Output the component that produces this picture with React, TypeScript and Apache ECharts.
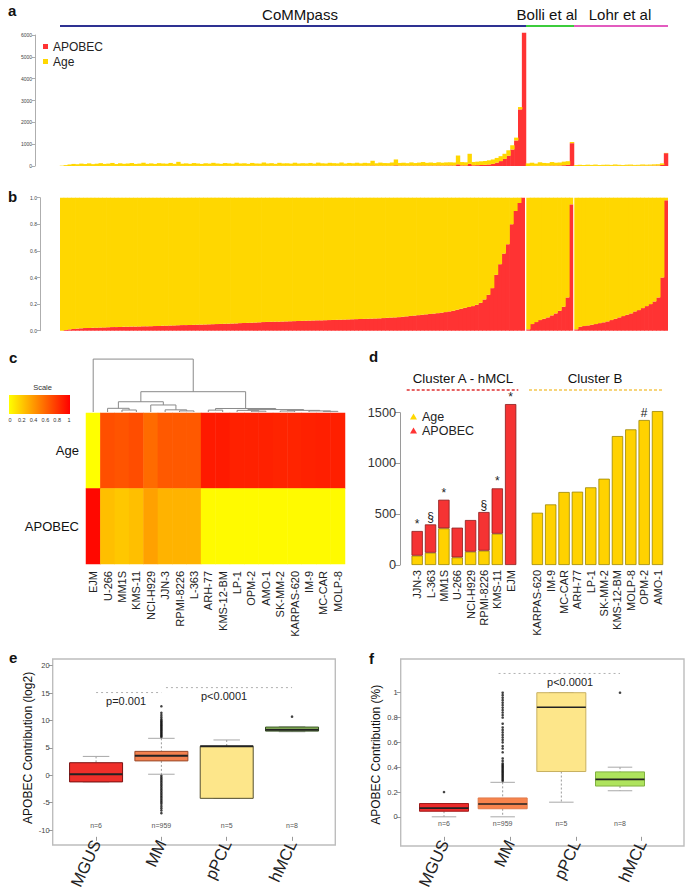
import React, { useEffect, useRef } from "react";
import * as echarts from "echarts";

const FONT = '"Liberation Sans", Arial, Helvetica, sans-serif';

// ---------------- panel a / b : binned samples sorted by APOBEC fraction ----------------
const cohorts = ["CoMMpass", "Bolli et al", "Lohr et al"];
const commTotal = [
  15, 40, 70, 95, 80, 110, 90, 120, 85, 105,
  130, 95, 110, 140, 90, 125, 100, 115, 135, 95,
  110, 150, 100, 120, 95, 130, 115, 105, 140, 100,
  190, 105, 120, 100, 135, 115, 95, 125, 110, 145,
  115, 100, 135, 120, 105, 150, 115, 125, 100, 140,
  120, 110, 160, 115, 130, 100, 145, 120, 125, 110,
  150, 115, 130, 120, 140, 110, 155, 125, 115, 145,
  130, 120, 160, 115, 140, 125, 150, 120, 145, 130,
  240, 125, 155, 135, 130, 160, 300, 140, 150, 130,
  165, 135, 155, 180, 145, 160, 140, 170, 150, 165,
  170, 160, 480, 180, 170, 560, 185, 200, 215, 230,
  260, 300, 370, 450, 560, 720, 950, 1300, 2700, 6100,
];
const commFrac = [
  0, 0.005, 0.01, 0.013, 0.016, 0.018, 0.02, 0.021, 0.022, 0.023,
  0.024, 0.025, 0.026, 0.027, 0.027, 0.028, 0.029, 0.03, 0.031, 0.031,
  0.032, 0.033, 0.033, 0.034, 0.035, 0.036, 0.037, 0.038, 0.039, 0.04,
  0.041, 0.042, 0.042, 0.043, 0.044, 0.045, 0.046, 0.047, 0.048, 0.049,
  0.05, 0.051, 0.052, 0.053, 0.054, 0.055, 0.057, 0.058, 0.059, 0.06,
  0.062, 0.063, 0.065, 0.066, 0.067, 0.068, 0.068, 0.069, 0.07, 0.071,
  0.072, 0.073, 0.074, 0.075, 0.076, 0.077, 0.078, 0.078, 0.079, 0.08,
  0.081, 0.082, 0.083, 0.084, 0.085, 0.086, 0.087, 0.088, 0.089, 0.09,
  0.091, 0.092, 0.093, 0.095, 0.097, 0.099, 0.1, 0.102, 0.105, 0.108,
  0.111, 0.114, 0.117, 0.12, 0.123, 0.126, 0.129, 0.132, 0.136, 0.14,
  0.145, 0.15, 0.158, 0.165, 0.172, 0.178, 0.185, 0.195, 0.21, 0.235,
  0.27, 0.32, 0.42, 0.5, 0.58, 0.65, 0.8, 0.9, 0.96, 1.0,
];
const bolliTotal = [120, 150, 110, 170, 140, 130, 180, 150, 160, 200, 220, 1100];
const bolliFrac = [0.01, 0.05, 0.065, 0.08, 0.09, 0.1, 0.115, 0.13, 0.15, 0.18, 0.25, 0.95];
const lohrTotal = [40, 55, 45, 60, 50, 65, 45, 55, 60, 50, 70, 55, 45, 60, 65, 50, 55, 70, 60, 65, 75, 80, 120, 600];
const lohrFrac = [
  0.01, 0.03, 0.035, 0.04, 0.045, 0.05, 0.057, 0.063, 0.07, 0.08, 0.09, 0.1,
  0.11, 0.12, 0.13, 0.145, 0.155, 0.17, 0.185, 0.2, 0.22, 0.25, 0.4, 0.98,
];

// ---------------- panel c : heatmap of signature fractions ----------------
const cellLines = [
  "EJM", "U-266", "MM1S", "KMS-11", "NCI-H929", "JJN-3", "RPMI-8226", "L-363", "ARH-77",
  "KMS-12-BM", "LP-1", "OPM-2", "AMO-1", "SK-MM-2", "KARPAS-620", "IM-9", "MC-CAR", "MOLP-8",
];
const heatRows = ["APOBEC", "Age"];
const heatAge = [0, 0.69, 0.67, 0.7, 0.58, 0.65, 0.65, 0.65, 0.9, 0.9, 0.87, 0.87, 0.87, 0.86, 0.86, 0.87, 0.88, 0.88];
const heatApobec = [0.97, 0.25, 0.22, 0.25, 0.37, 0.3, 0.3, 0.3, 0.02, 0.02, 0.02, 0.02, 0.02, 0.02, 0.02, 0.02, 0.02, 0.02];
const colorbarTicks = [0, 0.2, 0.4, 0.6, 0.8, 1];
// hierarchical merges: [left, right, height]; >=0 leaf index, <0 earlier merge -(k+1)
const dendroMerges = [
  [2, 3, 0.037], [1, -1, 0.068], [6, 7, 0.02], [5, -3, 0.04], [4, -4, 0.13], [-2, -5, 0.19],
  [16, 17, 0.012], [15, -7, 0.02], [13, 14, 0.018], [-9, -8, 0.03], [11, 12, 0.015],
  [10, -11, 0.03], [-12, -10, 0.045], [8, 9, 0.035], [-14, -13, 0.065], [-6, -15, 0.376], [0, -16, 0.98],
];

// ---------------- panel d : mutation counts per cell line ----------------
const dCats = [
  "JJN-3", "L-363", "MM1S", "U-266", "NCI-H929", "RPMI-8226", "KMS-11", "EJM", "",
  "KARPAS-620", "IM-9", "MC-CAR", "ARH-77", "LP-1", "SK-MM-2", "KMS-12-BM", "MOLP-8", "OPM-2", "AMO-1",
];
const dAge = [92, 121, 361, 75, 131, 141, 308, 0, null, 515, 597, 719, 722, 765, 850, 1270, 1336, 1428, 1516];
const dApobec = [243, 279, 282, 293, 312, 381, 447, 1585, null, 0, 0, 0, 0, 0, 0, 0, 0, 0, 0];
const dMarks = ["*", "§", "*", "", "", "§", "*", "*", "", "", "", "", "", "", "", "", "", "#", ""];
const clusterNames = ["Cluster A - hMCL", "Cluster B"];

// ---------------- panel e / f : box plots ----------------
const groups = ["MGUS", "MM", "pPCL", "hMCL"];
const groupN = ["n=6", "n=959", "n=5", "n=8"];
// [min, q1, median, q3, max]
const eBox = [
  [-1.2, -1.2, 0.2, 2.3, 3.45],
  [0.2, 2.63, 3.57, 4.37, 6.75],
  [-4.2, -4.2, 5.3, 5.3, 6.45],
  [7.95, 8.07, 8.3, 8.8, 8.85],
];
const eOutMM = [
  7.0, 7.2, 7.4, 7.6, 7.8, 8.0, 8.2, 8.4, 8.6, 8.8, 9.0, 9.2, 9.4, 9.6, 9.8, 10.0, 10.25, 10.6, 11.0, 11.4, 12.6,
  -0.1, -0.4, -0.7, -1.0, -1.3, -1.6, -1.9, -2.2, -2.5, -2.8, -3.1, -3.4, -3.7, -4.0, -4.3, -4.6, -4.9, -5.2, -5.6, -6.0, -6.4, -6.9,
];
const eOutHMCL = [10.7];
const eTests = ["p=0.001", "p<0.0001"];
const fBox = [
  [0, 0.045, 0.07, 0.107, 0.107],
  [0, 0.065, 0.103, 0.152, 0.278],
  [0.118, 0.365, 0.883, 1.0, 1.0],
  [0.21, 0.248, 0.302, 0.362, 0.4],
];
const fOutMGUS = [0.2];
const fOutMM = [
  0.29, 0.3, 0.31, 0.32, 0.33, 0.34, 0.35, 0.36, 0.37, 0.38, 0.39, 0.4, 0.41, 0.42, 0.43, 0.45, 0.47, 0.52,
  0.55, 0.57, 0.6, 0.62, 0.64, 0.66, 0.68, 0.7, 0.72, 0.75, 0.8, 0.82, 0.84, 0.86, 0.88, 0.9, 0.92, 0.94, 0.96, 0.98, 1.0,
];
const fOutHMCL = [1.0];
const fTests = ["p<0.0001"];

// ---------------- styling / layout ----------------
const RED = "#ff3333";
const YEL = "#ffd700";
const A_TOP = 35, A_H = 131;
const B_TOP = 197.7, B_H = 133;
const A_COLS = [{ l: 60, w: 466 }, { l: 526, w: 48 }, { l: 574, w: 94 }];
const B_COLS = [{ l: 60, w: 465 }, { l: 526.3, w: 46.9 }, { l: 574.3, w: 93.7 }];
const COHORT_COLORS = ["#2e3192", "#3ccc3c", "#e35bbf"];
const HM = { l: 86, t: 413, w: 259, h: 151 };
const DG = { t: 358, h: 54 };
const D = { l: 410.5, w: 253.7, base: 565, top1500: 412.7 };
const E = { l: 63.4, w: 261.3, t: 665.7, h: 172.6, frameL: 52.7, frameT: 659, frameW: 282.6, frameH: 186 };
const F = { l: 411, w: 263.6, t: 692.7, h: 133.3, frameL: 400.7, frameT: 659, frameW: 283.3, frameH: 187 };
const eFill = ["#ef2f2a", "#f3814f", "#fde68a", "#9fd268"];
const eStroke = ["#7a1212", "#9a4a2a", "#55502e", "#2f4a1c"];
const fFill = ["#ea2a2a", "#f7844d", "#fde68a", "#aee35d"];
const fStroke = ["#a01a1a", "#e07a4a", "#c8b060", "#80b040"];

function makeBoxRender(fills: string[], strokes: string[], width: number, medW: number) {
  return (params: any, api: any) => {
    const x = api.value(0);
    const pMin = api.coord([x, api.value(1)]);
    const pQ1 = api.coord([x, api.value(2)]);
    const pMed = api.coord([x, api.value(3)]);
    const pQ3 = api.coord([x, api.value(4)]);
    const pMax = api.coord([x, api.value(5)]);
    const cx = pMed[0];
    const hw = width / 2;
    const cw = width / 4;
    const i = params.dataIndex;
    const whisk = { stroke: "#9a9a9a", lineWidth: 1, lineDash: [2, 2] };
    const cap = { stroke: "#a8a8a8", lineWidth: 1 };
    return {
      type: "group",
      children: [
        { type: "line", shape: { x1: cx, y1: pMax[1], x2: cx, y2: pQ3[1] }, style: whisk },
        { type: "line", shape: { x1: cx, y1: pQ1[1], x2: cx, y2: pMin[1] }, style: whisk },
        { type: "line", shape: { x1: cx - cw, y1: pMax[1], x2: cx + cw, y2: pMax[1] }, style: cap },
        { type: "line", shape: { x1: cx - cw, y1: pMin[1], x2: cx + cw, y2: pMin[1] }, style: cap },
        {
          type: "rect",
          shape: { x: cx - hw, y: pQ3[1], width, height: Math.max(pQ1[1] - pQ3[1], 0.5) },
          style: { fill: fills[i], stroke: strokes[i], lineWidth: 1 },
        },
        { type: "line", shape: { x1: cx - hw, y1: pMed[1], x2: cx + hw, y2: pMed[1] }, style: { stroke: "#222", lineWidth: medW } },
      ],
    };
  };
}

// text annotations placed through the axes (custom series, explicit fill)
function textSeries(xi: number, yi: number, data: any[], labels: string[], font: string, color: string, dy: number, va: string) {
  return {
    type: "custom", xAxisIndex: xi, yAxisIndex: yi, silent: true, data, encode: { x: 0, y: 1 },
    renderItem: (params: any, api: any) => {
      const p = api.coord([api.value(0), api.value(1)]);
      return {
        type: "text", x: p[0], y: p[1] + dy,
        style: { text: labels[params.dataIndex], fill: color, font, textAlign: "center", textVerticalAlign: va },
      };
    },
  };
}

function buildOption() {
  const grid: any[] = [];
  const xAxis: any[] = [];
  const yAxis: any[] = [];
  const series: any[] = [];
  const graphic: any[] = [];
  const noLine = { show: false, onZero: false };

  const cohortData = [
    { total: commTotal, frac: commFrac },
    { total: bolliTotal, frac: bolliFrac },
    { total: lohrTotal, frac: lohrFrac },
  ];

  // grids 0-2 (a), 3-5 (b)
  cohortData.forEach((c, k) => {
    grid.push({ left: A_COLS[k].l, top: A_TOP, width: A_COLS[k].w, height: A_H });
  });
  cohortData.forEach((c, k) => {
    grid.push({ left: B_COLS[k].l, top: B_TOP, width: B_COLS[k].w, height: B_H });
  });
  const axisStyleSmall = {
    axisLine: { show: true, onZero: false, lineStyle: { color: "#999", width: 0.8 } },
    axisTick: { show: true, length: 3, lineStyle: { color: "#999", width: 0.8 } },
    axisLabel: { fontSize: 5, color: "#444", margin: 3, fontFamily: FONT, formatter: (v: number) => String(v) },
    splitLine: { show: false },
  };
  for (let g = 0; g < 6; g++) {
    const k = g % 3;
    xAxis.push({ type: "category", gridIndex: g, data: cohortData[k].total.map((_, i) => i), show: false, axisLine: noLine });
    if (g < 3) {
      yAxis.push(
        k === 0
          ? { type: "value", gridIndex: g, min: 0, max: 6000, interval: 1000, offset: 25, ...axisStyleSmall }
          : { type: "value", gridIndex: g, min: 0, max: 6000, show: false, axisLine: noLine, splitLine: { show: false } }
      );
    } else {
      yAxis.push(
        k === 0
          ? {
              type: "value", gridIndex: g, min: 0, max: 1, interval: 0.2, offset: 20, ...axisStyleSmall,
              axisLabel: { ...axisStyleSmall.axisLabel, formatter: (v: number) => v.toFixed(1) },
            }
          : { type: "value", gridIndex: g, min: 0, max: 1, show: false, axisLine: noLine, splitLine: { show: false } }
      );
    }
  }
  cohortData.forEach((c, k) => {
    const apobec = c.total.map((t, i) => t * c.frac[i]);
    const age = c.total.map((t, i) => t - t * c.frac[i]);
    const bw = A_COLS[k].w / c.total.length + 0.5;
    series.push({
      type: "bar", name: "APOBEC", xAxisIndex: k, yAxisIndex: k, stack: "a" + k, data: apobec,
      barWidth: bw, itemStyle: { color: RED }, clip: false, silent: true,
    });
    series.push({
      type: "bar", name: "Age", xAxisIndex: k, yAxisIndex: k, stack: "a" + k, data: age,
      barWidth: bw, itemStyle: { color: YEL }, clip: false, silent: true,
    });
  });
  cohortData.forEach((c, k) => {
    const bw = B_COLS[k].w / c.frac.length + 0.7;
    series.push({
      type: "bar", name: "APOBEC", xAxisIndex: 3 + k, yAxisIndex: 3 + k, stack: "b" + k, data: c.frac,
      barWidth: bw, itemStyle: { color: RED }, silent: true,
    });
    series.push({
      type: "bar", name: "Age", xAxisIndex: 3 + k, yAxisIndex: 3 + k, stack: "b" + k, data: c.frac.map((f) => 1 - f),
      barWidth: bw, itemStyle: { color: YEL }, silent: true,
    });
  });

  // grid 6 heatmap, grid 7 dendrogram
  grid.push({ left: HM.l, top: HM.t, width: HM.w, height: HM.h });
  grid.push({ left: HM.l, top: DG.t, width: HM.w, height: DG.h });
  xAxis.push({
    type: "category", gridIndex: 6, data: cellLines, axisLine: noLine, axisTick: { show: false },
    axisLabel: { rotate: 90, interval: 0, fontSize: 11, margin: 7, color: "#222", fontFamily: FONT },
  });
  yAxis.push({
    type: "category", gridIndex: 6, data: heatRows, axisLine: noLine, axisTick: { show: false },
    axisLabel: { fontSize: 13, margin: 7, color: "#111", fontFamily: FONT },
  });
  xAxis.push({ type: "value", gridIndex: 7, min: 0, max: cellLines.length, show: false, axisLine: noLine, splitLine: { show: false } });
  yAxis.push({ type: "value", gridIndex: 7, min: 0, max: 1, show: false, axisLine: noLine, splitLine: { show: false } });
  const heatIdx = series.length;
  series.push({
    type: "heatmap", xAxisIndex: 6, yAxisIndex: 6, silent: true,
    data: [
      ...cellLines.map((_, i) => [i, 1, heatAge[i]]),
      ...cellLines.map((_, i) => [i, 0, heatApobec[i]]),
    ],
  });
  const mX: number[] = [];
  const mH: number[] = [];
  const nx = (r: number) => (r >= 0 ? r + 0.5 : mX[-r - 1]);
  const nh = (r: number) => (r >= 0 ? 0 : mH[-r - 1]);
  const dLines: any[] = [];
  dendroMerges.forEach(([a, b, h], k) => {
    dLines.push({ coords: [[nx(a), nh(a)], [nx(a), h], [nx(b), h], [nx(b), nh(b)]] });
    mX[k] = (nx(a) + nx(b)) / 2;
    mH[k] = h;
  });
  series.push({
    type: "lines", coordinateSystem: "cartesian2d", xAxisIndex: 7, yAxisIndex: 7, polyline: true, silent: true,
    lineStyle: { color: "#8a8a8a", width: 1, opacity: 1 }, data: dLines,
  });

  // grid 8 d bars, grid 9 d axis
  const dPx = (D.base - D.top1500) / 1500;
  grid.push({ left: D.l, width: D.w, top: D.base - 1600 * dPx, height: 1600 * dPx });
  grid.push({ left: D.l, width: D.w, top: D.top1500, height: D.base - D.top1500 });
  xAxis.push({
    type: "category", gridIndex: 8, data: dCats, axisLine: noLine, axisTick: { show: false },
    axisLabel: { rotate: 90, interval: 0, fontSize: 11, margin: 5, color: "#222", fontFamily: FONT },
  });
  yAxis.push({ type: "value", gridIndex: 8, min: 0, max: 1600, show: false, axisLine: noLine, splitLine: { show: false } });
  xAxis.push({ type: "value", gridIndex: 9, min: 0, max: 1, show: false, axisLine: noLine, splitLine: { show: false } });
  yAxis.push({
    type: "value", gridIndex: 9, min: 0, max: 1500, interval: 500, offset: 10.5,
    axisLine: { show: true, onZero: false, lineStyle: { color: "#9a9a9a", width: 1 } },
    axisTick: { show: true, length: 5, lineStyle: { color: "#9a9a9a" } },
    axisLabel: { fontSize: 12.7, color: "#333", margin: 4, fontFamily: FONT, formatter: (v: number) => String(v) },
    splitLine: { show: false },
  });
  series.push({
    type: "bar", name: "Age", xAxisIndex: 8, yAxisIndex: 8, stack: "d", silent: true,
    data: dAge.map((v) => (v ? v : null)), barCategoryGap: "15%",
    itemStyle: { color: "#ffd200", borderColor: "#9c8500", borderWidth: 0.8 },
  });
  series.push({
    type: "bar", name: "APOBEC", xAxisIndex: 8, yAxisIndex: 8, stack: "d", silent: true,
    data: dApobec.map((v) => (v ? v : null)),
    itemStyle: { color: "#f53333", borderColor: "#8a1c1c", borderWidth: 0.8 },
  });
  series.push(
    textSeries(8, 8, dCats.map((_, i) => [i, (dAge[i] || 0) + (dApobec[i] || 0)]), dMarks, `12px ${FONT}`, "#222", -1, "bottom")
  );
  series.push({ type: "scatter", xAxisIndex: 9, yAxisIndex: 9, data: [], silent: true });

  // grid 10 e, grid 11 f
  grid.push({ left: E.l, top: E.t, width: E.w, height: E.h });
  grid.push({ left: F.l, top: F.t, width: F.w, height: F.h });
  const catAxis = (g: number, offset: number) => ({
    type: "category", gridIndex: g, data: groups, position: "bottom", offset,
    axisLine: noLine,
    axisTick: { show: true, alignWithLabel: true, length: 4, lineStyle: { color: "#999" } },
    axisLabel: { rotate: 65, fontSize: 16.5, margin: 4, color: "#222", fontFamily: FONT, interval: 0 },
  });
  xAxis.push(catAxis(10, E.frameT + E.frameH - (E.t + E.h)));
  const eX = xAxis.length;
  xAxis.push({ type: "value", gridIndex: 10, min: 0.5, max: 4.5, show: false, position: "top", axisLine: noLine, splitLine: { show: false } });
  xAxis.push(catAxis(11, F.frameT + F.frameH - (F.t + F.h)));
  const fX = xAxis.length;
  const fStep = (620 - 444) / 3;
  xAxis.push({
    type: "value", gridIndex: 11, min: 1 - (444 - F.l) / fStep, max: 4 + (F.l + F.w - 620) / fStep,
    show: false, position: "top", axisLine: noLine, splitLine: { show: false },
  });
  const boxY = (g: number, min: number, max: number, interval: number, offset: number, name: string) => ({
    type: "value", gridIndex: g, min, max, interval, offset, name, nameLocation: "middle", nameGap: 19,
    nameTextStyle: { fontSize: 12, color: "#111", fontFamily: FONT },
    axisLine: noLine,
    axisTick: { show: true, length: 4, lineStyle: { color: "#999" } },
    axisLabel: { fontSize: 7.5, color: "#444", margin: 3, fontFamily: FONT },
    splitLine: { show: false },
  });
  const eY = yAxis.length;
  yAxis.push(boxY(10, -10, 20, 5, E.l - E.frameL, "APOBEC Contribution (log2)"));
  const fY = yAxis.length;
  yAxis.push(boxY(11, 0, 1, 0.2, F.l - F.frameL, "APOBEC Contribution (%)"));

  const dotted = { color: "#b0b0b0", width: 1, type: [2, 3] };

  // e
  series.push({
    type: "custom", xAxisIndex: eX, yAxisIndex: eY, silent: true,
    data: eBox.map((b, i) => [i + 1, ...b]), encode: { x: 0, y: [1, 2, 3, 4, 5] },
    renderItem: makeBoxRender(eFill, eStroke, 53, 2),
  });
  series.push({
    type: "scatter", xAxisIndex: eX, yAxisIndex: eY, symbolSize: 2.6, silent: true,
    itemStyle: { color: "#111" },
    data: [...eOutMM.map((v) => [2, v]), ...eOutHMCL.map((v) => [4, v])],
  });
  series.push({ type: "line", xAxisIndex: eX, yAxisIndex: eY, symbol: "none", silent: true, clip: false, lineStyle: dotted, data: [[1, 15.1], [2, 15.1]] });
  series.push({ type: "line", xAxisIndex: eX, yAxisIndex: eY, symbol: "none", silent: true, clip: false, lineStyle: dotted, data: [[2.07, 16], [4, 16]] });
  series.push(textSeries(eX, eY, [[1.46, 13.5], [2.96, 14.4]], eTests, `11px ${FONT}`, "#222", 0, "middle"));
  series.push(textSeries(eX, eY, groups.map((_, i) => [i + 1, -9.1]), groupN, `7px ${FONT}`, "#555", 0, "middle"));

  // f
  series.push({
    type: "custom", xAxisIndex: fX, yAxisIndex: fY, silent: true,
    data: fBox.map((b, i) => [i + 1, ...b]), encode: { x: 0, y: [1, 2, 3, 4, 5] },
    renderItem: makeBoxRender(fFill, fStroke, 49, 1.6),
  });
  series.push({
    type: "scatter", xAxisIndex: fX, yAxisIndex: fY, symbolSize: 2.6, silent: true, clip: false,
    itemStyle: { color: "#111" },
    data: [...fOutMGUS.map((v) => [1, v]), ...fOutMM.map((v) => [2, v]), ...fOutHMCL.map((v) => [4, v])],
  });
  series.push({ type: "line", xAxisIndex: fX, yAxisIndex: fY, symbol: "none", silent: true, clip: false, lineStyle: dotted, data: [[1.93, 1.155], [4, 1.155]] });
  series.push(textSeries(fX, fY, [[3.15, 1.09]], fTests, `11px ${FONT}`, "#222", 0, "middle"));
  series.push(textSeries(fX, fY, groups.map((_, i) => [i + 1, -0.05]), groupN, `7px ${FONT}`, "#555", 0, "middle"));

  // ---------- graphics ----------
  const letter = (t: string, x: number, y: number) => ({
    type: "text", x, y, silent: true,
    style: { text: t, font: `bold 15px ${FONT}`, fill: "#111", textAlign: "left", textVerticalAlign: "middle" },
  });
  graphic.push(letter("a", 8, 10), letter("b", 8, 196), letter("c", 9, 357), letter("d", 369, 356), letter("e", 9, 657), letter("f", 369, 658));
  const cohortCenters = [300, 547, 620];
  cohorts.forEach((c, k) => {
    graphic.push({
      type: "text", x: cohortCenters[k], y: 14, silent: true,
      style: { text: c, font: `15px ${FONT}`, fill: "#111", textAlign: "center", textVerticalAlign: "middle" },
    });
    graphic.push({
      type: "line", silent: true,
      shape: { x1: A_COLS[k].l, y1: 26, x2: A_COLS[k].l + A_COLS[k].w, y2: 26 },
      style: { stroke: COHORT_COLORS[k], lineWidth: 2 },
    });
  });
  // colour scale
  const cb = { x: 9, y: 395, w: 61, h: 19 };
  graphic.push({
    type: "rect", silent: true, shape: { x: cb.x, y: cb.y, width: cb.w, height: cb.h },
    style: {
      fill: new echarts.graphic.LinearGradient(0, 0, 1, 0, [
        { offset: 0, color: "#ffff00" },
        { offset: 1, color: "#ff0000" },
      ]),
    },
  });
  graphic.push({
    type: "text", x: cb.x + cb.w / 2 + 3, y: 387, silent: true,
    style: { text: "Scale", font: `7.5px ${FONT}`, fill: "#333", textAlign: "center", textVerticalAlign: "middle" },
  });
  colorbarTicks.forEach((t) => {
    graphic.push({
      type: "text", x: cb.x + 1 + t * (cb.w - 2), y: 420, silent: true,
      style: { text: String(t), font: `5.5px ${FONT}`, fill: "#333", textAlign: "center", textVerticalAlign: "middle" },
    });
  });
  // d cluster headers
  const clusters = [
    { cx: 463, x1: 406.7, x2: 518.3, color: "#e03030" },
    { cx: 595, x1: 529, x2: 663.3, color: "#f5c850" },
  ];
  clusters.forEach((c, k) => {
    graphic.push({
      type: "text", x: c.cx, y: 378, silent: true,
      style: { text: clusterNames[k], font: `13.3px ${FONT}`, fill: "#111", textAlign: "center", textVerticalAlign: "middle" },
    });
    graphic.push({
      type: "line", silent: true, shape: { x1: c.x1, y1: 390, x2: c.x2, y2: 390 },
      style: { stroke: c.color, lineWidth: 1.5, lineDash: [3, 2] },
    });
  });
  // frames for e and f
  [E, F].forEach((p) => {
    graphic.push({
      type: "rect", silent: true, shape: { x: p.frameL, y: p.frameT, width: p.frameW, height: p.frameH },
      style: { fill: "none", stroke: "#bdbdbd", lineWidth: 1.4 },
    });
  });

  return {
    animation: false,
    textStyle: { fontFamily: FONT },
    grid,
    xAxis,
    yAxis,
    series,
    graphic,
    visualMap: {
      type: "continuous", show: false, min: 0, max: 1, dimension: 2, seriesIndex: heatIdx,
      inRange: { color: ["#ffff00", "#ff0000"] },
    },
    legend: [
      {
        data: ["APOBEC", "Age"], orient: "vertical", left: 43, top: 40, icon: "rect", itemWidth: 5, itemHeight: 5,
        itemGap: 2, padding: 0, selectedMode: false, itemStyle: { borderWidth: 0 },
        textStyle: { fontSize: 12, color: "#222", lineHeight: 13, fontFamily: FONT },
      },
      {
        data: ["Age", "APOBEC"], orient: "vertical", left: 410, top: 410, icon: "triangle", itemWidth: 7, itemHeight: 6,
        itemGap: 1, padding: 0, selectedMode: false, itemStyle: { borderWidth: 0 },
        textStyle: { fontSize: 12.5, color: "#222", lineHeight: 12, fontFamily: FONT },
      },
    ],
  };
}

export default function App() {
  const ref = useRef<HTMLDivElement>(null);
  useEffect(() => {
    if (!ref.current) return;
    const chart = echarts.init(ref.current, null, { renderer: "svg" });
    chart.setOption(buildOption() as any);
    return () => chart.dispose();
  }, []);
  return (
    <div
      ref={ref}
      style={{ position: "absolute", left: 0, top: 0, width: 685, height: 892, background: "#fff" }}
    />
  );
}
